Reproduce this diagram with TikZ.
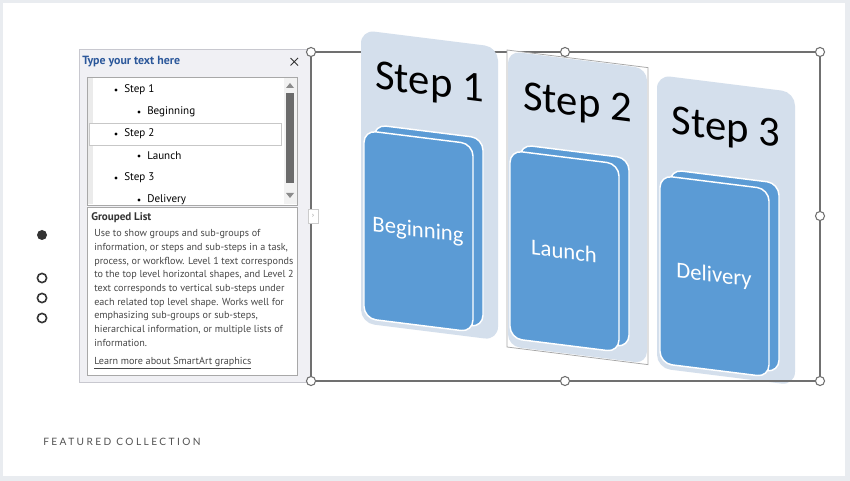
\documentclass[tikz,border=0pt]{standalone}
\usepackage{fontspec}
\setmainfont{Carlito}
\newfontfamily\uifont{PT Sans}
\newfontfamily\capsfont[LetterSpace=24]{Lato}
\usetikzlibrary{positioning}

\definecolor{pagegray}{HTML}{E9ECF0}
\definecolor{panefill}{HTML}{F0F0F4}
\definecolor{paneline}{HTML}{C8C8CF}
\definecolor{boxline}{HTML}{A8A8A8}
\definecolor{titleblue}{HTML}{2B579A}
\definecolor{groupfill}{HTML}{D4DFEC}
\definecolor{cardblue}{HTML}{5B9BD5}
\definecolor{framegray}{HTML}{707070}
\definecolor{uitext}{HTML}{333333}

\begin{document}
\begin{tikzpicture}[x=0.75pt,y=-0.75pt,
  handle/.style={circle,draw=framegray,fill=white,line width=0.8pt,inner sep=0pt,minimum size=6.8pt},
  uitxt/.style={font=\uifont\fontsize{7.6}{9}\selectfont,text=uitext,inner sep=0pt,anchor=west},
  grouptitle/.style={font=\fontsize{32}{36}\selectfont,text=black,inner sep=0pt,anchor=base,transform shape},
  cardtext/.style={font=\fontsize{17}{20}\selectfont,text=white,inner sep=0pt,transform shape},
  card/.style={fill=cardblue,draw=white,line width=1.1pt,rounded corners=9},
  navdot/.style={draw=uitext,line width=1.2pt}
]
% page
\fill[pagegray] (0,0) rectangle (850,481);
\fill[white] (3,3) rectangle (845,476);
\useasboundingbox (0,0) rectangle (850,481);

% slide dots
\fill[uitext] (42,235) circle (5);
\foreach \dy in {278,298,318}
  \draw[navdot] (42,\dy) circle (4.6);

\node[font=\capsfont\fontsize{7.6}{9}\selectfont,text=uitext!85,anchor=west,inner sep=0pt] (featured) at (43,442) {FEATURED COLLECTION};

% text pane
\draw[paneline,fill=panefill] (79,49) rectangle (310,382);
\node[uitxt,font=\uifont\bfseries\fontsize{8.9}{10}\selectfont,text=titleblue] (panetitle) at (82,62) {Type your text here};
\draw[uitext,line width=0.7pt] (290.5,58) -- (298,65.5) (290.5,65.5) -- (298,58);

\draw[boxline,fill=white] (87,77) rectangle (297,205);
\fill[black!8] (88,78) rectangle (93,204.5);
\fill[black!5] (284,78) rectangle (296.5,204.5);
\fill[black!45] (286,88) -- (294,88) -- (290,83) -- cycle;
\fill[black!58] (286,93) rectangle (294,183);
\fill[black!45] (286,193) -- (294,193) -- (290,198) -- cycle;
\draw[black!22,fill=white] (89,123) rectangle (281,145);
\begin{scope}
  \clip (87,77.5) rectangle (297,204.5);
  \foreach \bx/\ly/\txt [count=\i] in {116/90/Step 1,139/112/Beginning,116/134/Step 2,139/156/Launch,116/178/Step 3,139/200/Delivery} {
    \fill[black] (\bx,\ly) circle (1.7);
    \node[uitxt,text=black,font=\uifont\fontsize{8.3}{9}\selectfont] (item\i) at (\bx+8,\ly) {\txt};
  }
\end{scope}

\draw[boxline,fill=white] (87,207) rectangle (297,375);
\node[uitxt,font=\uifont\bfseries\fontsize{8.3}{9}\selectfont] (grouped) at (91,218) {Grouped List};
\node[uitxt,anchor=north west,align=left,font=\uifont\fontsize{7.6}{10.25}\selectfont,text=uitext!90] (about) at (94,229.5) {%
Use to show groups and sub-groups of\\
information, or steps and sub-steps in a task,\\
process, or workflow. Level 1 text corresponds\\
to the top level horizontal shapes, and Level 2\\
text corresponds to vertical sub-steps under\\
each related top level shape. Works well for\\
emphasizing sub-groups or sub-steps,\\
hierarchical information, or multiple lists of\\
information.};
\node[uitxt,text=uitext!90] (learn) at (94,363) {\underline{Learn more about SmartArt graphics}};

% selection frame
\draw[framegray,line width=0.8pt] (311,52) rectangle (820,381);

% grouped list shapes
\foreach \gx/\gy/\gw/\ttl/\sub [count=\n] in {361/30/137/Step 1/Beginning,507/50/141/Step 2/Launch,657/75/138/Step 3/Delivery} {
  \begin{scope}[shift={(\gx,\gy)},yslant=-0.125]
    \ifnum\n=2
      \draw[boxline,line width=0.6pt,fill=white] (0,0) rectangle (\gw,297);
      \fill[groupfill,rounded corners=9] (1,1) rectangle (\gw-1,296);
    \else
      \fill[groupfill,rounded corners=10] (0,0) rectangle (\gw,293);
    \fi
    \node[grouptitle] (title\n) at (\gw/2,57) {\ttl};
    \draw[card] (13,93) rectangle (122,282);
    \draw[card] (3,100) rectangle (112,288);
    \node[cardtext] (sub\n) at (57,194) {\sub};
  \end{scope}
}

% bottom edge passes over the last group
\draw[framegray,line width=0.8pt] (700,381) -- (820,381);

% handles
\foreach \hx/\hy [count=\k] in {311/52,565/52,820/52,820/216,311/381,565/381,820/381}
  \node[handle] (h\k) at (\hx,\hy) {};
\draw[black!20,fill=white] (308,209) rectangle (318,223);
\node[font=\uifont\fontsize{5}{5}\selectfont,text=black!45,inner sep=0pt] (toggle) at (313,216) {›};
\end{tikzpicture}
\end{document}
